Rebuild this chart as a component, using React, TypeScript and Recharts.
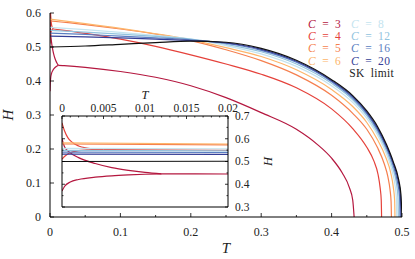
import React from 'react';
import { LineChart, Line, XAxis, YAxis, CartesianGrid } from 'recharts';

// connectivities shown, and the colour each one gets
const C_VALUES = [3, 4, 5, 6, 8, 12, 16, 20];
const C_COLORS = ['#b4173f', '#e5413a', '#f57f4e', '#fdb56a', '#c4e4ef', '#91c3de', '#5a7ec1', '#353e96'];
const SK_COLOR = '#111111';
const SK_LABEL = 'SK limit';

// ticks
const MAIN_T_TICKS = [0, 0.05, 0.1, 0.15, 0.2, 0.25, 0.3, 0.35, 0.4, 0.45, 0.5];
const MAIN_T_LABELS = [0, 0.1, 0.2, 0.3, 0.4, 0.5];
const MAIN_H_TICKS = [0, 0.1, 0.2, 0.3, 0.4, 0.5, 0.6];
const INSET_T_TICKS = [0, 0.001, 0.002, 0.003, 0.004, 0.005, 0.006, 0.007, 0.008, 0.009, 0.01,
  0.011, 0.012, 0.013, 0.014, 0.015, 0.016, 0.017, 0.018, 0.019, 0.02];
const INSET_T_LABELS = [0, 0.005, 0.01, 0.015, 0.02];
const INSET_H_TICKS = [0.3, 0.35, 0.4, 0.45, 0.5, 0.55, 0.6, 0.65, 0.7];
const INSET_H_LABELS = [0.3, 0.4, 0.5, 0.6, 0.7];

// [T, H]
const C3_UPPER: [number, number][] = [[0, 0.6], [0.0003, 0.565], [0.001, 0.538], [0.002, 0.517], [0.004, 0.491],
  [0.006, 0.473], [0.008, 0.461], [0.01, 0.452], [0.012, 0.446]];
const C3_LOWER: [number, number][] = [[0, 0.37], [0.0003, 0.39], [0.001, 0.41], [0.002, 0.421], [0.004, 0.431],
  [0.006, 0.437], [0.008, 0.441], [0.01, 0.444], [0.012, 0.446]];
const C3_MAIN: [number, number][] = [[0.012, 0.446], [0.02, 0.445], [0.05, 0.44], [0.1, 0.428], [0.15, 0.411],
  [0.2, 0.386], [0.25, 0.351], [0.3, 0.307], [0.35, 0.258], [0.38, 0.213], [0.4, 0.173], [0.415, 0.13],
  [0.425, 0.088], [0.43, 0.05], [0.432, 0]];
const C4_UPPER: [number, number][] = [[0, 0.67], [0.0003, 0.635], [0.0007, 0.605], [0.0012, 0.585], [0.002, 0.568],
  [0.003, 0.559], [0.004, 0.555], [0.005, 0.553]];
const C4_LOWER: [number, number][] = [[0, 0.51], [0.0003, 0.522], [0.0007, 0.533], [0.0012, 0.541], [0.002, 0.548],
  [0.003, 0.551], [0.004, 0.553], [0.005, 0.553]];
const C4_MAIN: [number, number][] = [[0.005, 0.553], [0.02, 0.549], [0.05, 0.54], [0.1, 0.523], [0.15, 0.502],
  [0.2, 0.477], [0.25, 0.45], [0.3, 0.42], [0.35, 0.38], [0.4, 0.318], [0.43, 0.26], [0.45, 0.205],
  [0.46, 0.165], [0.466, 0.125], [0.469, 0.085], [0.4705, 0.05], [0.471, 0]];
const C5_MAIN: [number, number][] = [[0, 0.577], [0.05, 0.566], [0.1, 0.553], [0.15, 0.538], [0.2, 0.519],
  [0.25, 0.492], [0.3, 0.46], [0.35, 0.418], [0.4, 0.358], [0.43, 0.305], [0.45, 0.258], [0.465, 0.205],
  [0.475, 0.155], [0.48, 0.118], [0.483, 0.08], [0.4845, 0.045], [0.485, 0]];
const C6_MAIN: [number, number][] = [[0, 0.582], [0.05, 0.569], [0.1, 0.555], [0.15, 0.539], [0.2, 0.521],
  [0.25, 0.498], [0.3, 0.472], [0.35, 0.433], [0.4, 0.375], [0.43, 0.325], [0.45, 0.278], [0.465, 0.228],
  [0.477, 0.175], [0.484, 0.13], [0.4875, 0.09], [0.4895, 0.05], [0.49, 0]];
const C8_MAIN: [number, number][] = [[0, 0.558], [0.05, 0.551], [0.1, 0.543], [0.15, 0.534], [0.2, 0.523],
  [0.25, 0.504], [0.3, 0.48], [0.35, 0.443], [0.4, 0.386], [0.43, 0.337], [0.45, 0.29], [0.465, 0.242],
  [0.478, 0.185], [0.486, 0.135], [0.49, 0.095], [0.492, 0.055], [0.4925, 0]];
const C12_MAIN: [number, number][] = [[0, 0.549], [0.05, 0.544], [0.1, 0.538], [0.15, 0.531], [0.2, 0.523],
  [0.25, 0.508], [0.3, 0.486], [0.35, 0.45], [0.4, 0.393], [0.43, 0.345], [0.45, 0.298], [0.465, 0.25],
  [0.478, 0.195], [0.487, 0.143], [0.492, 0.1], [0.4943, 0.058], [0.4948, 0]];
const C16_MAIN: [number, number][] = [[0, 0.541], [0.05, 0.537], [0.1, 0.532], [0.15, 0.527], [0.2, 0.521],
  [0.25, 0.511], [0.3, 0.49], [0.35, 0.455], [0.4, 0.398], [0.43, 0.35], [0.45, 0.304], [0.465, 0.257],
  [0.478, 0.203], [0.488, 0.148], [0.4935, 0.103], [0.4965, 0.06], [0.4972, 0]];
const C20_MAIN: [number, number][] = [[0, 0.532], [0.05, 0.53], [0.1, 0.527], [0.15, 0.523], [0.2, 0.519],
  [0.25, 0.512], [0.3, 0.493], [0.35, 0.458], [0.4, 0.401], [0.43, 0.354], [0.45, 0.308], [0.465, 0.262],
  [0.478, 0.208], [0.488, 0.155], [0.4945, 0.108], [0.4978, 0.062], [0.4986, 0]];
const SK_MAIN: [number, number][] = [[0, 0.5], [0.05, 0.503], [0.1, 0.508], [0.15, 0.513], [0.2, 0.517],
  [0.25, 0.514], [0.3, 0.496], [0.35, 0.461], [0.4, 0.404], [0.43, 0.357], [0.45, 0.312], [0.465, 0.267],
  [0.478, 0.213], [0.488, 0.16], [0.495, 0.112], [0.4985, 0.065], [0.5, 0]];

const CURVES = [
  { id: 'c3u', pts: C3_UPPER, color: C_COLORS[0] },
  { id: 'c3l', pts: C3_LOWER, color: C_COLORS[0] },
  { id: 'c3', pts: C3_MAIN, color: C_COLORS[0] },
  { id: 'c4u', pts: C4_UPPER, color: C_COLORS[1] },
  { id: 'c4l', pts: C4_LOWER, color: C_COLORS[1] },
  { id: 'c4', pts: C4_MAIN, color: C_COLORS[1] },
  { id: 'c5', pts: C5_MAIN, color: C_COLORS[2] },
  { id: 'c6', pts: C6_MAIN, color: C_COLORS[3] },
  { id: 'c8', pts: C8_MAIN, color: C_COLORS[4] },
  { id: 'c12', pts: C12_MAIN, color: C_COLORS[5] },
  { id: 'c16', pts: C16_MAIN, color: C_COLORS[6] },
  { id: 'c20', pts: C20_MAIN, color: C_COLORS[7] },
  { id: 'sk', pts: SK_MAIN, color: SK_COLOR },
];

const FONT = '"Liberation Serif", serif';
const INK = '#222';

type Side = 'bottom' | 'top' | 'left' | 'right';
type TickSize = { major: number; minor: number; gap: number; font: number };

// draws inward ticks (axis tickSize/tickMargin are 0 so x,y sit on the axis line)
function makeTick(side: Side, majors: number[], showLabels: boolean, s: TickSize) {
  return (props: any) => {
    const { x, y, payload } = props;
    const v = Number(payload.value);
    const big = majors.some((m) => Math.abs(m - v) < 1e-9);
    const len = big ? s.major : s.minor;
    const dx = side === 'left' ? len : side === 'right' ? -len : 0;
    const dy = side === 'bottom' ? -len : side === 'top' ? len : 0;
    let label: React.ReactNode = null;
    if (showLabels && big) {
      const common = { fontFamily: FONT, fontSize: s.font, fill: INK };
      if (side === 'bottom') label = <text x={x} y={y + s.gap} textAnchor="middle" {...common}>{String(v)}</text>;
      if (side === 'top') label = <text x={x} y={y - s.gap} textAnchor="middle" {...common}>{String(v)}</text>;
      if (side === 'left') label = <text x={x - s.gap} y={y + s.font * 0.33} textAnchor="end" {...common}>{String(v)}</text>;
      if (side === 'right') label = <text x={x + s.gap} y={y + s.font * 0.33} textAnchor="start" {...common}>{String(v)}</text>;
    }
    return (
      <g>
        <line x1={x} y1={y} x2={x + dx} y2={y + dy} stroke="#000" strokeWidth={0.8} />
        {label}
      </g>
    );
  };
}

// italic axis title, placed from the axis viewBox
function title(text: string, size: number, place: (vb: any) => { x: number; y: number }, rotate = false) {
  return (props: any) => {
    const vb = props.viewBox || { x: 0, y: 0, width: 0, height: 0 };
    const { x, y } = place(vb);
    return (
      <text x={x} y={y} textAnchor="middle" fontFamily={FONT} fontStyle="italic" fontSize={size} fill={INK}
        transform={rotate ? `rotate(-90 ${x} ${y})` : undefined}>
        {text}
      </text>
    );
  };
}

const rows = (pts: [number, number][]) => pts.map(([T, H]) => ({ T, H }));

const MAIN_TICK: TickSize = { major: 4, minor: 2, gap: 19, font: 12 };
const MAIN_YTICK: TickSize = { major: 4, minor: 2, gap: 9, font: 12 };
const INSET_XTICK: TickSize = { major: 3, minor: 1.5, gap: 4.5, font: 11.5 };
const INSET_YTICK: TickSize = { major: 3, minor: 1.5, gap: 7, font: 11.5 };

const legendText = { fontFamily: FONT, fontSize: 11.5, lineHeight: '12.2px', wordSpacing: 3, letterSpacing: 0.3 };

export default function App() {
  const lines = CURVES.map((c) => (
    <Line key={c.id} data={rows(c.pts)} dataKey="H" type="monotone" stroke={c.color} strokeWidth={1.2}
      dot={false} activeDot={false} isAnimationActive={false} />
  ));
  return (
    <div style={{ position: 'absolute', left: 0, top: 0, width: 415, height: 259, background: '#fff' }}>
      <LineChart width={415} height={259} margin={{ top: 13, right: 13, bottom: 0, left: 0 }}>
        <XAxis dataKey="T" type="number" domain={[0, 0.5]} ticks={MAIN_T_TICKS} interval={0} height={42}
          tickSize={0} tickMargin={0} tickLine={false} axisLine={{ stroke: '#000' }} allowDataOverflow
          tick={makeTick('bottom', MAIN_T_LABELS, true, MAIN_TICK)}
          label={title('T', 15, (vb) => ({ x: vb.x + vb.width / 2, y: vb.y + 36 }))} />
        <XAxis xAxisId="top" orientation="top" type="number" domain={[0, 0.5]} ticks={MAIN_T_TICKS} interval={0}
          height={0} tickSize={0} tickMargin={0} tickLine={false} axisLine={{ stroke: '#000' }} allowDataOverflow
          tick={makeTick('top', MAIN_T_LABELS, false, MAIN_TICK)} />
        <YAxis type="number" domain={[0, 0.6]} ticks={MAIN_H_TICKS} interval={0} width={50}
          tickSize={0} tickMargin={0} tickLine={false} axisLine={{ stroke: '#000' }} allowDataOverflow
          tick={makeTick('left', MAIN_H_TICKS, true, MAIN_YTICK)}
          label={title('H', 15, (vb) => ({ x: vb.x + 13, y: vb.y + vb.height / 2 }), true)} />
        <YAxis yAxisId="right" orientation="right" type="number" domain={[0, 0.6]} ticks={MAIN_H_TICKS} interval={0}
          width={0} tickSize={0} tickMargin={0} tickLine={false} axisLine={{ stroke: '#000' }} allowDataOverflow
          tick={makeTick('right', MAIN_H_TICKS, false, MAIN_YTICK)} />
        {lines}
      </LineChart>

      <div style={{ position: 'absolute', left: 40, top: 85 }}>
        <LineChart width={240} height={127} margin={{ top: 0, right: 0, bottom: 0, left: 0 }}>
          <CartesianGrid horizontal={false} vertical={false} fill="#fff" fillOpacity={1} />
          <XAxis dataKey="T" orientation="top" type="number" domain={[0, 0.02]} ticks={INSET_T_TICKS} interval={0}
            height={31} tickSize={0} tickMargin={0} tickLine={false} axisLine={{ stroke: '#000' }} allowDataOverflow
            tick={makeTick('top', INSET_T_LABELS, true, INSET_XTICK)}
            label={title('T', 12.5, (vb) => ({ x: vb.x + vb.width / 2, y: vb.y + 13.5 }))} />
          <XAxis xAxisId="bottom" type="number" domain={[0, 0.02]} ticks={INSET_T_TICKS} interval={0}
            height={5} tickSize={0} tickMargin={0} tickLine={false} axisLine={{ stroke: '#000' }} allowDataOverflow
            tick={makeTick('bottom', INSET_T_LABELS, false, INSET_XTICK)} />
          <YAxis orientation="right" type="number" domain={[0.3, 0.7]} ticks={INSET_H_TICKS} interval={0} width={52}
            tickSize={0} tickMargin={0} tickLine={false} axisLine={{ stroke: '#000' }} allowDataOverflow
            tick={makeTick('right', INSET_H_LABELS, true, INSET_YTICK)}
            label={title('H', 12.5, (vb) => ({ x: vb.x + 44, y: vb.y + vb.height / 2 }), true)} />
          <YAxis yAxisId="left" type="number" domain={[0.3, 0.7]} ticks={INSET_H_TICKS} interval={0} width={22}
            tickSize={0} tickMargin={0} tickLine={false} axisLine={{ stroke: '#000' }} allowDataOverflow
            tick={makeTick('left', INSET_H_LABELS, false, INSET_YTICK)} />
          {lines}
        </LineChart>
      </div>

      <div style={{ position: 'absolute', left: 308, top: 18, ...legendText, display: 'grid',
        gridTemplateColumns: '43px 50px', gridAutoFlow: 'column', gridTemplateRows: 'repeat(4, 12.2px)' }}>
        {C_VALUES.map((c, i) => (
          <div key={c} style={{ color: C_COLORS[i], whiteSpace: 'nowrap' }}>
            <span style={{ fontStyle: 'italic' }}>C</span>{' = ' + c}
          </div>
        ))}
      </div>
      <div style={{ position: 'absolute', left: 330, width: 64, top: 67, textAlign: 'right', ...legendText,
        color: INK, whiteSpace: 'nowrap' }}>
        {SK_LABEL}
      </div>
    </div>
  );
}
